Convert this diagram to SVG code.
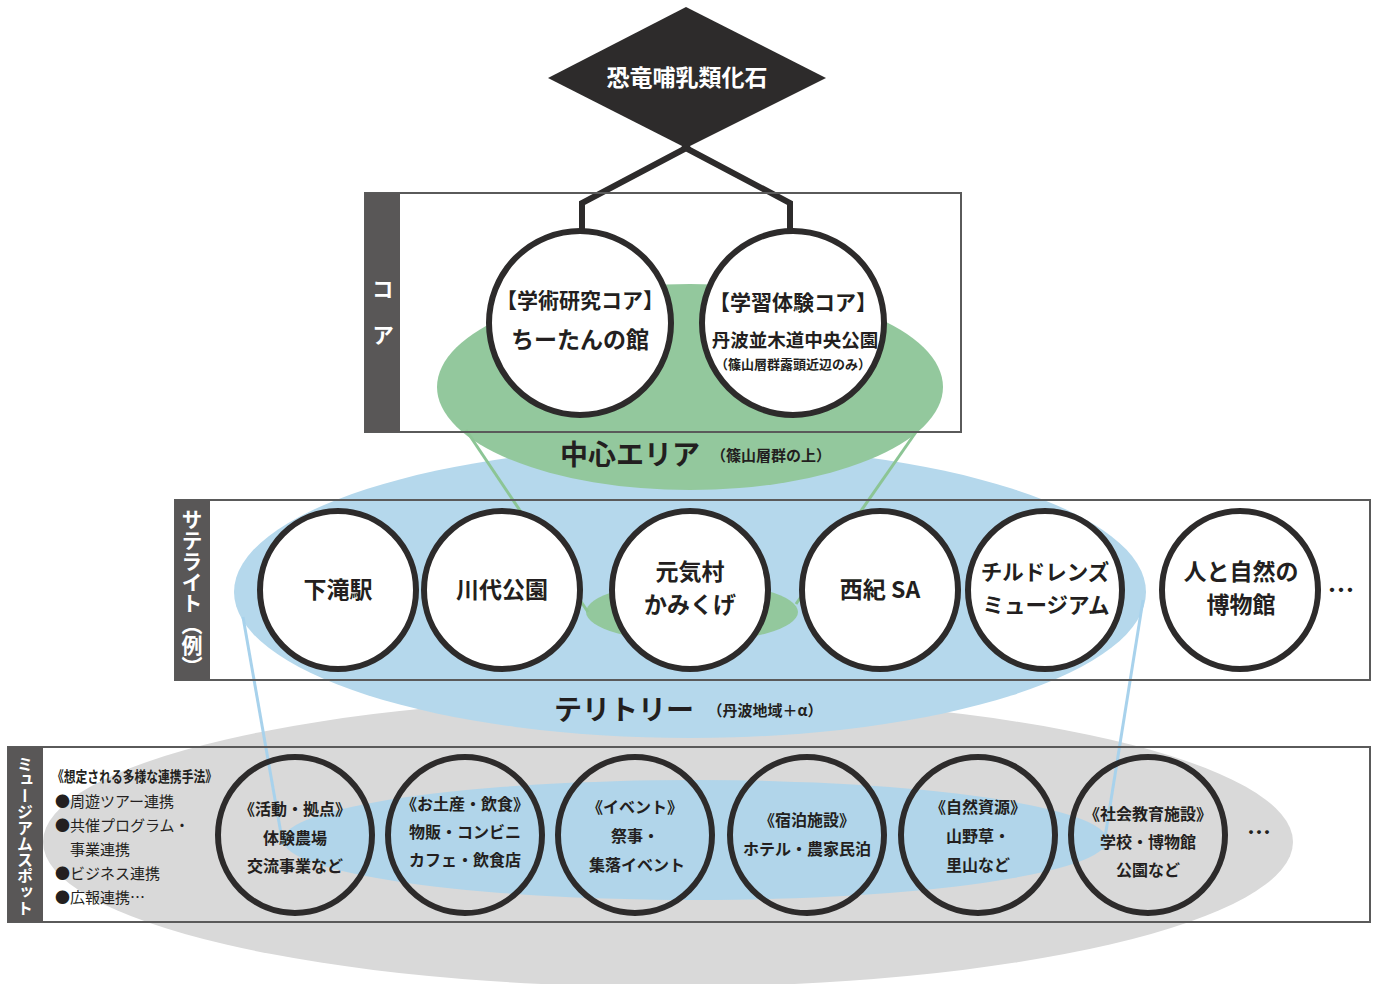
<svg xmlns="http://www.w3.org/2000/svg" width="1378" height="984" viewBox="0 0 1378 984">
<style>
.t{font-family:"Noto Sans CJK JP","Noto Sans",sans-serif;fill:#231f20;text-anchor:middle;font-weight:700}
.w{fill:#ffffff}
.v{font-family:"Noto Sans CJK JP","Noto Sans",sans-serif;fill:#ffffff;font-weight:700;writing-mode:vertical-rl}
.l{font-family:"Noto Sans CJK JP","Noto Sans",sans-serif;fill:#231f20;font-size:15px}
.c{fill:#ffffff;stroke:#2d2b2b;stroke-width:6}
.o{fill:none;stroke:#2d2b2b;stroke-width:6}
.m{fill:none;stroke:#2d2b2b;stroke-width:6}
.box{fill:none;stroke:#5a5a5a;stroke-width:2}
.bar{fill:#595757}
</style>
<rect width="1378" height="984" fill="#ffffff"/>
<g id="areas">
<ellipse cx="668" cy="842" rx="625" ry="145" fill="#d9d9d9"/>
<ellipse cx="690" cy="592" rx="456" ry="146" fill="#b5d8ec"/>
<ellipse cx="690" cy="387" rx="253" ry="103" fill="#93c89d"/>
<ellipse cx="695" cy="840" rx="412" ry="60" fill="#b1d5ea"/>
<ellipse cx="692" cy="612" rx="106" ry="30" fill="#93c89d"/>
</g>
<g id="connectors">
<line x1="466" y1="430" x2="588" y2="612" stroke="#8cc595" stroke-width="3"/>
<line x1="916" y1="432" x2="796" y2="604" stroke="#8cc595" stroke-width="3"/>
<line x1="243" y1="617" x2="283" y2="845" stroke="#a8d2ec" stroke-width="3"/>
<line x1="1143" y1="600" x2="1103" y2="850" stroke="#a8d2ec" stroke-width="3"/>
<polyline class="m" points="690,146 582,203 582,234"/>
<polyline class="m" points="682,146 790,203 790,234"/>
</g>
<g id="boxes">
<rect class="box" x="365" y="193" width="596" height="239"/>
<rect class="bar" x="365" y="193" width="35" height="239"/>
<rect class="box" x="175" y="500" width="1195" height="180"/>
<rect class="bar" x="175" y="500" width="35" height="180"/>
<rect class="box" x="8" y="747" width="1362" height="175"/>
<rect class="bar" x="8" y="747" width="35" height="175"/>
<text class="v" x="383" y="278" font-size="22">コ</text>
<text class="v" x="383" y="324" font-size="22">ア</text>
<text class="v" x="192" y="509" font-size="21">サテライト（例）</text>
<text class="v" x="25" y="756" font-size="16">ミュージアムスポット</text>
</g>
<g id="fossil">
<polygon points="686,7 826,78 686,148 548,78" fill="#2d2b2b"/>
<text class="t w" x="687" y="86" font-size="23">恐竜哺乳類化石</text>
</g>
<g id="core-research">
<ellipse class="c" cx="580" cy="323" rx="91" ry="92"/>
<text class="t" x="580" y="308" font-size="21">【学術研究コア】</text>
<text class="t" x="580" y="348" font-size="23">ちーたんの館</text>
</g>
<g id="core-learning">
<ellipse class="c" cx="793" cy="323" rx="91" ry="92"/>
<text class="t" x="793" y="310" font-size="21">【学習体験コア】</text>
<text class="t" x="795" y="347" font-size="18.5">丹波並木道中央公園</text>
<text class="t" x="793" y="369" font-size="13">（篠山層群露頭近辺のみ）</text>
</g>
<g id="center-area-label">
<text class="t" x="630" y="465" font-size="28">中心エリア</text>
<text class="t" x="771" y="461" font-size="15">（篠山層群の上）</text>
</g>
<g id="sat-shimotaki">
<ellipse class="c" cx="338" cy="590" rx="78" ry="79"/>
<text class="t" x="338" y="598" font-size="23">下滝駅</text>
</g>
<g id="sat-kawashiro">
<ellipse class="c" cx="502" cy="590" rx="78" ry="79"/>
<text class="t" x="502" y="598" font-size="23">川代公園</text>
</g>
<g id="sat-genkimura">
<ellipse class="c" cx="690" cy="590" rx="78" ry="79"/>
<text class="t" x="690" y="580" font-size="23">元気村</text>
<text class="t" x="690" y="613" font-size="23">かみくげ</text>
</g>
<g id="sat-nishiki">
<ellipse class="c" cx="880" cy="590" rx="78" ry="79"/>
<text class="t" x="880" y="598" font-size="23">西紀 SA</text>
</g>
<g id="sat-childrens">
<ellipse class="c" cx="1045" cy="590" rx="77" ry="79"/>
<text class="t" x="1045" y="580" font-size="21.5">チルドレンズ</text>
<text class="t" x="1046" y="613" font-size="21.5">ミュージアム</text>
</g>
<g id="sat-hitoshizen">
<ellipse class="c" cx="1240" cy="590" rx="78" ry="79"/>
<text class="t" x="1241" y="580" font-size="23">人と自然の</text>
<text class="t" x="1241" y="613" font-size="23">博物館</text>
<text class="t" x="1341" y="600" font-size="27">…</text>
</g>
<g id="territory-label">
<text class="t" x="624" y="720" font-size="28">テリトリー</text>
<text class="t" x="765" y="716" font-size="15">（丹波地域＋α）</text>
</g>
<g id="methods">
<text class="l" x="52" y="782" font-size="14" font-weight="700" textLength="165" lengthAdjust="spacingAndGlyphs">《想定される多様な連携手法》</text>
<text class="l" x="55" y="807">●周遊ツアー連携</text>
<text class="l" x="55" y="831">●共催プログラム・</text>
<text class="l" x="70" y="855">事業連携</text>
<text class="l" x="55" y="879">●ビジネス連携</text>
<text class="l" x="55" y="903">●広報連携…</text>
</g>
<g id="ms-activity">
<ellipse class="o" cx="295" cy="835" rx="77" ry="78"/>
<text class="t" x="295" y="815" font-size="16">《活動・拠点》</text>
<text class="t" x="295" y="844" font-size="16">体験農場</text>
<text class="t" x="295" y="872" font-size="16">交流事業など</text>
</g>
<g id="ms-food">
<ellipse class="o" cx="465" cy="835" rx="77" ry="78"/>
<text class="t" x="465" y="810" font-size="16">《お土産・飲食》</text>
<text class="t" x="465" y="838" font-size="16">物販・コンビニ</text>
<text class="t" x="465" y="866" font-size="16">カフェ・飲食店</text>
</g>
<g id="ms-event">
<ellipse class="o" cx="635" cy="835" rx="77" ry="78"/>
<text class="t" x="635" y="813" font-size="16">《イベント》</text>
<text class="t" x="635" y="842" font-size="16">祭事・</text>
<text class="t" x="637" y="871" font-size="16">集落イベント</text>
</g>
<g id="ms-stay">
<ellipse class="o" cx="807" cy="835" rx="77" ry="78"/>
<text class="t" x="807" y="826" font-size="16">《宿泊施設》</text>
<text class="t" x="807" y="855" font-size="16">ホテル・農家民泊</text>
</g>
<g id="ms-nature">
<ellipse class="o" cx="978" cy="835" rx="77" ry="78"/>
<text class="t" x="978" y="813" font-size="16">《自然資源》</text>
<text class="t" x="978" y="842" font-size="16">山野草・</text>
<text class="t" x="978" y="871" font-size="16">里山など</text>
</g>
<g id="ms-education">
<ellipse class="o" cx="1148" cy="835" rx="77" ry="78"/>
<text class="t" x="1148" y="820" font-size="16">《社会教育施設》</text>
<text class="t" x="1148" y="848" font-size="16">学校・博物館</text>
<text class="t" x="1148" y="876" font-size="16">公園など</text>
<text class="t" x="1259" y="841" font-size="24">…</text>
</g>
</svg>
